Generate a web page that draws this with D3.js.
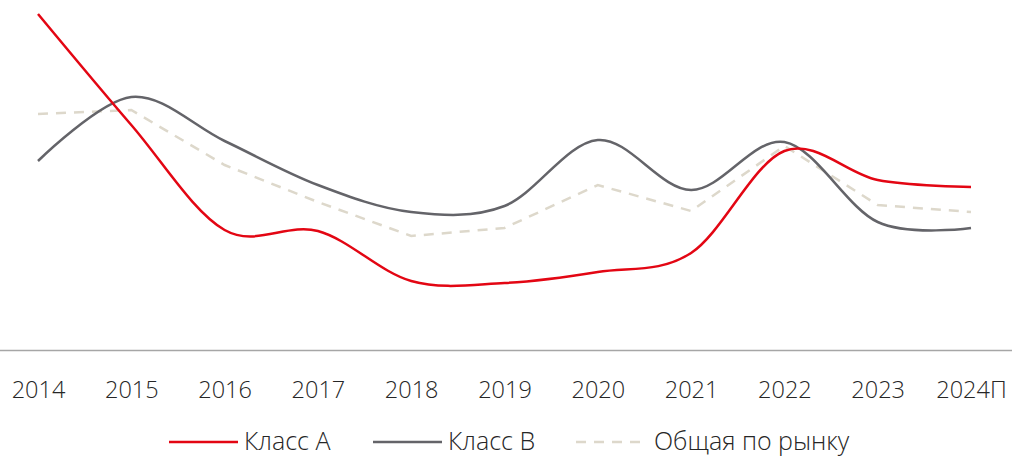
<!DOCTYPE html>
<html><head><meta charset="utf-8">
<script src="https://cdn.jsdelivr.net/npm/d3@7"></script>
<style>
body{margin:0;background:#fff;}
text{font-family:"Open Sans",sans-serif;font-weight:300;fill:#262626;}
</style></head>
<body><svg id="c" width="1012" height="456"></svg>
<script>
const years = ["2014","2015","2016","2017","2018","2019","2020","2021","2022","2023","2024П"];
const classA = [33.6,22.5,12.0,11.9,6.9,6.7,7.8,9.7,19.9,17.0,16.3];
const classB = [18.9,25.3,20.9,16.5,13.8,14.4,21.0,16.0,20.8,12.8,12.2];
const market = [23.6,24.0,18.5,14.8,11.4,12.2,16.5,13.9,20.4,14.5,13.8];
const seriesNames = ["Класс А","Класс В","Общая по рынку"];

const svg = d3.select("#c");
const x = d3.scalePoint().domain(years).range([38,971]);
const y = d3.scaleLinear().domain([0,35]).range([350,0]);

const styles = [
  {color:"#e30613", dash:null, curve:d3.curveCardinal.tension(0)},
  {color:"#646469", dash:null, curve:d3.curveCardinal.tension(0)},
  {color:"#ddd8cb", dash:"10,8", curve:d3.curveLinear}
];
const data = [classA, classB, market];

// axis baseline
svg.append("line").attr("x1",0).attr("x2",1012).attr("y1",350.5).attr("y2",350.5)
  .attr("stroke","#a6a6a6").attr("stroke-width",1.3);

// x-axis labels
const ax = svg.append("g").attr("transform","translate(0,350)")
  .call(d3.axisBottom(x).tickSize(0).tickPadding(31));
ax.select(".domain").remove();
ax.selectAll("text").attr("font-size",23.5).attr("font-family","Open Sans").attr("fill","#262626");

// lines: draw market first, then B, then A
[2,1,0].forEach(i=>{
  const line = d3.line().x((d,j)=>x(years[j])).y(d=>y(d)).curve(styles[i].curve);
  svg.append("path").datum(data[i]).attr("d",line).attr("fill","none")
    .attr("stroke",styles[i].color).attr("stroke-width",2.5)
    .attr("stroke-dasharray",styles[i].dash);
});

// legend
const leg = [{x1:169,x2:238,tx:244},{x1:373,x2:442,tx:448},{x1:576,x2:644,tx:654}];
leg.forEach((l,i)=>{
  svg.append("line").attr("x1",l.x1).attr("x2",l.x2).attr("y1",442).attr("y2",442)
    .attr("stroke",styles[i].color).attr("stroke-width",2.5).attr("stroke-dasharray",styles[i].dash);
  svg.append("text").attr("x",l.tx).attr("y",450).attr("font-size",25).text(seriesNames[i]);
});
</script></body></html>
